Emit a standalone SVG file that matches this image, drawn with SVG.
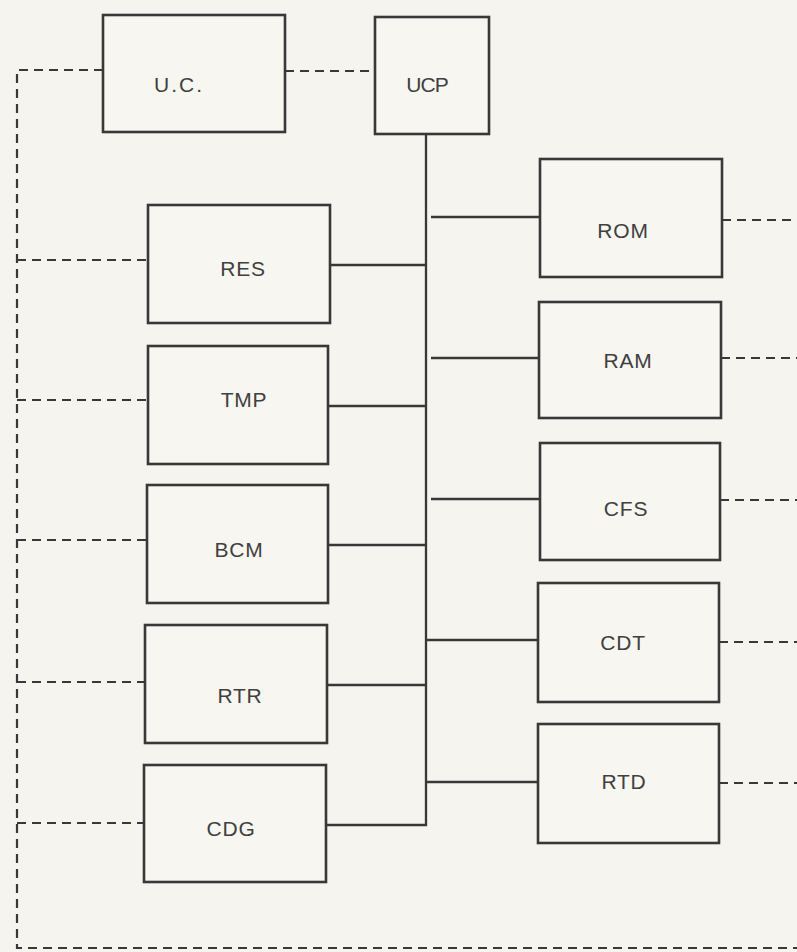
<svg xmlns="http://www.w3.org/2000/svg" width="797" height="952" viewBox="0 0 797 952">
<style>
.bg{fill:#f6f4ef}
.box{fill:#f8f6f1;stroke:#383838;stroke-width:2.6}
.solid{fill:none;stroke:#383838;stroke-width:2.3}
.dash{fill:none;stroke:#383838;stroke-width:2.2;stroke-dasharray:9 6}
.lbl{font-family:"Liberation Sans",Arial,sans-serif;font-size:21px;fill:#404040;text-anchor:middle;letter-spacing:0.8px}
</style>
<rect class="bg" x="0" y="0" width="797" height="952"/>
<g id="connectors">
<path class="solid" d="M426 134 V825 H326"/>
<path class="solid" d="M330 265 H426"/>
<path class="solid" d="M328 406 H426"/>
<path class="solid" d="M328 545 H426"/>
<path class="solid" d="M327 685 H426"/>
<path class="solid" d="M431 217 H540"/>
<path class="solid" d="M431 358 H539"/>
<path class="solid" d="M431 499 H540"/>
<path class="solid" d="M426 640 H538"/>
<path class="solid" d="M426 782 H538"/>
<path class="dash" d="M285 71 H375"/>
<path class="dash" d="M103 70 H17 V948 H797"/>
<path class="dash" d="M17 260 H147"/>
<path class="dash" d="M17 400 H147"/>
<path class="dash" d="M17 540 H147"/>
<path class="dash" d="M17 682 H145"/>
<path class="dash" d="M17 823 H144"/>
<path class="dash" d="M722 220 H797"/>
<path class="dash" d="M721 358 H797"/>
<path class="dash" d="M720 500 H797"/>
<path class="dash" d="M719 642 H797"/>
<path class="dash" d="M719 783 H797"/>
</g>
<g id="uc"><rect class="box" x="103" y="15" width="182" height="117"/><text class="lbl" x="179" y="92" style="letter-spacing:2px">U.C.</text></g>
<g id="ucp"><rect class="box" x="375" y="17" width="114" height="117"/><text class="lbl" x="427" y="92" style="letter-spacing:-1px">UCP</text></g>
<g id="res"><rect class="box" x="148" y="205" width="182" height="118"/><text class="lbl" x="243" y="276">RES</text></g>
<g id="tmp"><rect class="box" x="148" y="346" width="180" height="118"/><text class="lbl" x="244" y="407">TMP</text></g>
<g id="bcm"><rect class="box" x="147" y="485" width="181" height="118"/><text class="lbl" x="239" y="557">BCM</text></g>
<g id="rtr"><rect class="box" x="145" y="625" width="182" height="118"/><text class="lbl" x="240" y="703">RTR</text></g>
<g id="cdg"><rect class="box" x="144" y="765" width="182" height="117"/><text class="lbl" x="231" y="836">CDG</text></g>
<g id="rom"><rect class="box" x="540" y="159" width="182" height="118"/><text class="lbl" x="623" y="238">ROM</text></g>
<g id="ram"><rect class="box" x="539" y="302" width="182" height="116"/><text class="lbl" x="628" y="368">RAM</text></g>
<g id="cfs"><rect class="box" x="540" y="443" width="180" height="117"/><text class="lbl" x="626" y="516">CFS</text></g>
<g id="cdt"><rect class="box" x="538" y="583" width="181" height="119"/><text class="lbl" x="623" y="650">CDT</text></g>
<g id="rtd"><rect class="box" x="538" y="724" width="181" height="119"/><text class="lbl" x="624" y="789">RTD</text></g>
</svg>
